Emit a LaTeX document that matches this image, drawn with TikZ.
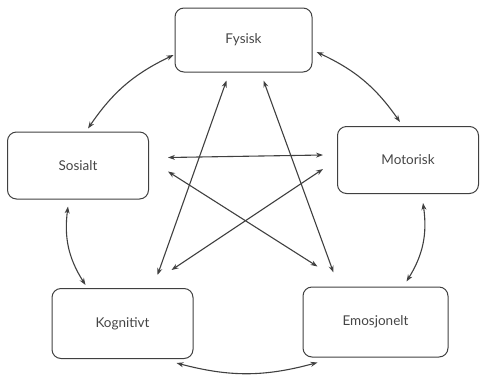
\documentclass[tikz,border=0pt]{standalone}
\usepackage{fontspec}
\setmainfont{Lato}
\usetikzlibrary{arrows.meta}

\definecolor{boxgray}{HTML}{404040}
\definecolor{textgray}{HTML}{454545}

\tikzset{
  area/.style={draw=boxgray, line width=1pt, rounded corners=9pt,
    minimum width=141pt, minimum height=67pt, text=textgray,
    font=\fontsize{13.5}{16}\selectfont},
  link/.style={{Stealth[length=7pt,width=5pt]}-{Stealth[length=7pt,width=5pt]},
    draw=boxgray, line width=1.1pt},
}

\begin{document}
\begin{tikzpicture}[x=1pt, y=-1pt]
  \useasboundingbox (0,0) rectangle (480,376);

  % the five areas
  \node[area, minimum width=137pt, minimum height=64pt] (fys) at (243.5,40) {Fysisk};
  \node[area] (sos) at (78,165.5) {Sosialt};
  \node[area] (mot) at (408,160) {Motorisk};
  \node[area, minimum height=70pt] (kog) at (122.5,323.5) {Kognitivt};
  \node[area, minimum width=145pt, minimum height=70pt] (emo) at (375.5,322) {Emosjonelt};

  % curved arrows round the ring
  \draw[link] ([xshift=-1pt,yshift=-15pt]fys.west) to[bend right=15] ([xshift=10pt,yshift=3pt]sos.north);
  \draw[link] ([xshift=4pt,yshift=-12pt]fys.east) to[bend left=15] ([xshift=-8pt,yshift=4pt]mot.north);
  \draw[link] ([xshift=-10pt,yshift=-7pt]sos.south) to[bend right=20] ([xshift=-37pt,yshift=3pt]kog.north);
  \draw[link] ([xshift=15pt,yshift=-9pt]mot.south) to[bend left=20] ([xshift=31pt,yshift=5pt]emo.north);
  \draw[link] ([xshift=-17pt,yshift=-4pt]kog.south east) to[bend right=15] ([xshift=15pt,yshift=-5pt]emo.south west);

  % straight arrows across
  \draw[link] ([xshift=19pt,yshift=8pt]sos.east) -- ([xshift=-14pt,yshift=5pt]mot.west);
  \draw[link] ([xshift=19pt,yshift=-6pt]sos.east) -- ([xshift=15pt,yshift=20pt]emo.north west);
  \draw[link] ([xshift=-14pt,yshift=-9pt]mot.west) -- ([xshift=-22pt,yshift=18pt]kog.north east);
  \draw[link] ([xshift=-17pt,yshift=-8pt]fys.south) -- ([xshift=35pt,yshift=13pt]kog.north);
  \draw[link] ([xshift=20pt,yshift=-8pt]fys.south) -- ([xshift=-42pt,yshift=14pt]emo.north);
\end{tikzpicture}
\end{document}
